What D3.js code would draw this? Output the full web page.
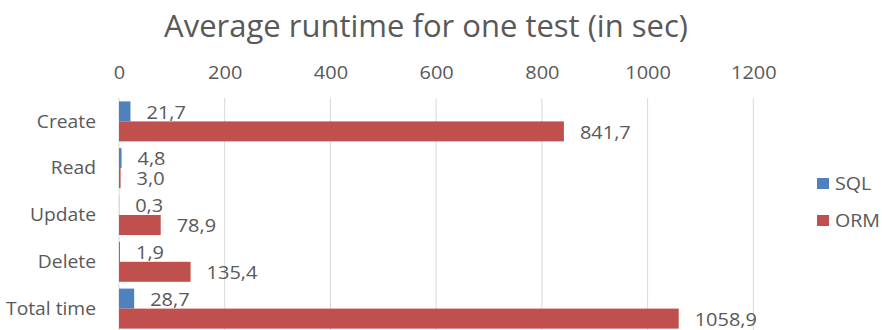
<!DOCTYPE html>
<html>
<head>
<meta charset="utf-8">
<script src="https://cdn.jsdelivr.net/npm/d3@7"></script>
<style>
  html, body { margin: 0; padding: 0; background: #fff; }
  svg { display: block; font-family: "Open Sans", "Noto Sans", sans-serif; }
</style>
</head>
<body>
<svg id="chart" width="882" height="330"></svg>
<script>
// Average runtime per test, in seconds
const categories = ["Create", "Read", "Update", "Delete", "Total time"];
const seriesNames = ["SQL", "ORM"];
const sqlValues = [21.7, 4.8, 0.3, 1.9, 28.7];
const ormValues = [841.7, 3.0, 78.9, 135.4, 1058.9];
const tickValues = [0, 200, 400, 600, 800, 1000, 1200];
const colors = ["#4f81bd", "#c0504d"];
const titleText = "Average runtime for one test (in sec)";

const svg = d3.select("#chart");
const textColor = "#595959";
const smallFont = 17.5;

const plot = { left: 119, right: 753.3, top: 98, bottom: 332 };

const x = d3.scaleLinear().domain([0, 1200]).range([plot.left, plot.right]);
const y = d3.scaleBand().domain(categories).range([plot.top, plot.bottom]).paddingInner(0.145).paddingOuter(0.0725);
const ySeries = d3.scaleBand().domain(seriesNames).range([0, y.bandwidth()]);

const fmt = v => v.toFixed(1).replace(".", ",");

// Title
svg.append("text")
  .attr("x", 426).attr("y", 37)
  .attr("text-anchor", "middle")
  .attr("font-size", 31)
  .attr("fill", textColor)
  .text(titleText);

// Top value axis with vertical gridlines
const axis = d3.axisTop(x).tickValues(tickValues).tickSize(0).tickPadding(0).tickFormat(d3.format("d"));
const axisG = svg.append("g").attr("transform", `translate(0,${79})`).call(axis);
axisG.select(".domain").remove();
axisG.selectAll("text").attr("class", "small").attr("data-widen", 1.14)
  .attr("font-size", smallFont).attr("fill", textColor)
  .attr("font-family", "Open Sans, Noto Sans, sans-serif");

svg.append("g").selectAll("line")
  .data(tickValues.slice(1))
  .join("line")
  .attr("x1", d => x(d)).attr("x2", d => x(d))
  .attr("y1", plot.top).attr("y2", plot.bottom)
  .attr("stroke", "#d9d9d9").attr("stroke-width", 1);

// Category axis line
svg.append("line")
  .attr("x1", x(0)).attr("x2", x(0))
  .attr("y1", plot.top).attr("y2", plot.bottom)
  .attr("stroke", "#d9d9d9").attr("stroke-width", 1);

// Category labels
svg.append("g").selectAll("text")
  .data(categories)
  .join("text")
  .attr("class", "small").attr("data-widen", 1.1)
  .attr("x", 96)
  .attr("y", d => y(d) + y.bandwidth() / 2)
  .attr("dy", "0.35em")
  .attr("text-anchor", "end")
  .attr("font-size", smallFont)
  .attr("fill", textColor)
  .text(d => d);

// Bars and value labels
const rows = categories.map((c, i) => ({ cat: c, values: [sqlValues[i], ormValues[i]] }));
const groups = svg.append("g").selectAll("g")
  .data(rows)
  .join("g")
  .attr("transform", d => `translate(0,${y(d.cat)})`);

groups.selectAll("rect")
  .data(d => d.values.map((v, j) => ({ s: seriesNames[j], v, j })))
  .join("rect")
  .attr("x", x(0))
  .attr("y", d => ySeries(d.s))
  .attr("width", d => x(d.v) - x(0))
  .attr("height", ySeries.bandwidth())
  .attr("fill", d => colors[d.j]);

groups.selectAll("text")
  .data(d => d.values.map((v, j) => ({ s: seriesNames[j], v, j })))
  .join("text")
  .attr("class", "small").attr("data-widen", 1.14)
  .attr("x", d => x(d.v) + 16)
  .attr("y", d => ySeries(d.s) + ySeries.bandwidth() / 2 + 1)
  .attr("dy", "0.35em")
  .attr("font-size", smallFont)
  .attr("fill", textColor)
  .text(d => fmt(d.v));

// Legend
const legend = svg.append("g").selectAll("g")
  .data(seriesNames)
  .join("g")
  .attr("transform", (d, i) => `translate(817,${183.5 + i * 37})`);
legend.append("rect")
  .attr("x", 0).attr("y", -5.5).attr("width", 12).attr("height", 11)
  .attr("fill", (d, i) => colors[i]);
legend.append("text")
  .attr("class", "small").attr("data-widen", 1.12)
  .attr("x", 18).attr("y", 0).attr("dy", "0.35em")
  .attr("font-size", smallFont)
  .attr("fill", textColor)
  .text(d => d);

// Stretch the small labels horizontally
svg.selectAll("text.small").each(function () {
  const len = this.getComputedTextLength();
  const k = +this.getAttribute("data-widen") || 1;
  d3.select(this).attr("textLength", len * k).attr("lengthAdjust", "spacingAndGlyphs");
});
</script>
</body>
</html>
